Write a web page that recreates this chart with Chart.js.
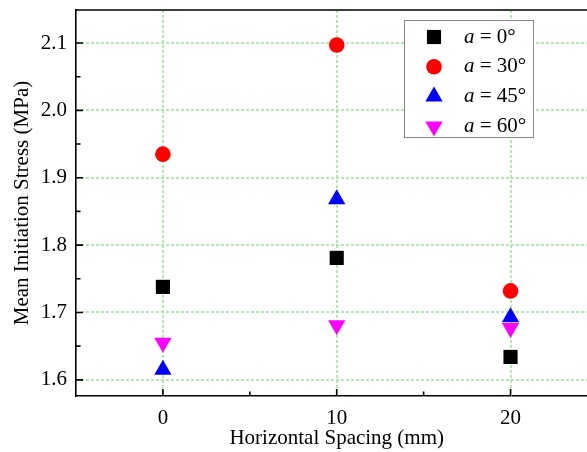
<!DOCTYPE html>
<html>
<head>
<meta charset="utf-8">
<script src="https://cdn.jsdelivr.net/npm/chart.js@4/dist/chart.umd.min.js"></script>
<style>
  html, body { margin: 0; padding: 0; background: #fff; overflow: hidden; }
  canvas { display: block; }
</style>
</head>
<body>
<canvas id="chart" width="587" height="452"></canvas>
<script>
// horizontal spacing (mm) and mean initiation stress (MPa) per inclination angle
const spacing = [0, 10, 20];
const stressA0 = [1.738, 1.781, 1.634];
const stressA30 = [1.935, 2.097, 1.732];
const stressA45 = [1.615, 1.868, 1.693];
const stressA60 = [1.655, 1.681, 1.677];

const angleLabels = ["0°", "30°", "45°", "60°"];
const xTicks = [0, 10, 20];
const xMinor = [5, 15];
const yTicks = [1.6, 1.7, 1.8, 1.9, 2.0, 2.1];
const yMinor = [1.65, 1.75, 1.85, 1.95, 2.05];

const SERIF = "'Liberation Serif', 'Times New Roman', serif";
const GRID = "#9ce29c";

function pts(ys){
  return spacing.map((x,i)=>({x:x, y:ys[i]}));
}

const series = [
  {ys:stressA0,  color:"#000000", style:"rect",     radius:10,  rot:0},
  {ys:stressA30, color:"#ff0000", style:"circle",   radius:7.8, rot:0},
  {ys:stressA45, color:"#0000ff", style:"triangle", radius:10,  rot:0},
  {ys:stressA60, color:"#ff00ff", style:"triangle", radius:10,  rot:180}
];

// same geometry as Chart.js point styles, used for the legend symbols
function marker(ctx, style, r, rot, x, y){
  ctx.beginPath();
  if(style === "circle"){
    ctx.arc(x, y, r, 0, Math.PI*2);
  } else if(style === "rect"){
    const s = Math.SQRT1_2 * r;
    ctx.rect(x-s, y-s, 2*s, 2*s);
  } else {
    let a = rot * Math.PI / 180;
    ctx.moveTo(x + Math.sin(a)*r, y - Math.cos(a)*r);
    a += Math.PI*2/3;
    ctx.lineTo(x + Math.sin(a)*r, y - Math.cos(a)*r);
    a += Math.PI*2/3;
    ctx.lineTo(x + Math.sin(a)*r, y - Math.cos(a)*r);
    ctx.closePath();
  }
  ctx.fill();
}

const frame = {
  id:"frame",
  beforeDatasetsDraw(chart){
    const {ctx, chartArea:a, scales:{x, y}} = chart;
    ctx.save();
    ctx.strokeStyle = GRID;
    ctx.lineWidth = 1.5;
    ctx.setLineDash([3,2]);
    ctx.beginPath();
    yTicks.forEach(v=>{
      const p = Math.round(y.getPixelForValue(v));
      ctx.moveTo(a.left, p); ctx.lineTo(a.right, p);
    });
    xTicks.forEach(v=>{
      const p = Math.round(x.getPixelForValue(v));
      ctx.moveTo(p, a.top); ctx.lineTo(p, a.bottom);
    });
    ctx.stroke();
    ctx.restore();
  },
  afterDatasetsDraw(chart){
    const {ctx, chartArea:a, scales:{x, y}} = chart;
    ctx.save();
    ctx.strokeStyle = "#000";
    ctx.lineWidth = 1.6;
    ctx.beginPath();
    ctx.moveTo(a.left, a.top);
    ctx.lineTo(a.right, a.top);
    // inward ticks
    xTicks.forEach(v=>{ const p = x.getPixelForValue(v); ctx.moveTo(p, a.bottom); ctx.lineTo(p, a.bottom-7); });
    xMinor.forEach(v=>{ const p = x.getPixelForValue(v); ctx.moveTo(p, a.bottom); ctx.lineTo(p, a.bottom-4.5); });
    yTicks.forEach(v=>{ const p = y.getPixelForValue(v); ctx.moveTo(a.left, p); ctx.lineTo(a.left+7, p); });
    yMinor.forEach(v=>{ const p = y.getPixelForValue(v); ctx.moveTo(a.left, p); ctx.lineTo(a.left+4.5, p); });
    ctx.stroke();
    ctx.restore();
  },
  afterDraw(chart){
    const {ctx, scales:{x}} = chart;
    ctx.save();
    // axis title, centred on the full -5..25 span
    ctx.fillStyle = "#000";
    ctx.font = "21px " + SERIF;
    ctx.textAlign = "center";
    ctx.textBaseline = "middle";
    ctx.fillText("Horizontal Spacing (mm)", x.getPixelForValue(10), 438);
    ctx.textAlign = "left";
    // legend
    ctx.fillStyle = "#fff";
    ctx.fillRect(404, 20, 130, 118);
    ctx.strokeStyle = "#888";
    ctx.lineWidth = 1;
    ctx.strokeRect(404.5, 20.5, 129, 117);
    series.forEach((s,i)=>{
      const cy = 37 + i*29.8;
      ctx.fillStyle = s.color;
      marker(ctx, s.style, s.radius, s.rot, 434, cy);
      ctx.fillStyle = "#000";
      ctx.font = "italic 21px " + SERIF;
      ctx.fillText("a", 464, cy);
      const w = ctx.measureText("a").width;
      ctx.font = "21px " + SERIF;
      ctx.fillText(" = " + angleLabels[i], 464 + w, cy);
    });
    ctx.restore();
  }
};

new Chart(document.getElementById("chart"), {
  type:"scatter",
  data:{
    datasets: series.map((s,i)=>({
      label:"a = " + angleLabels[i],
      data:pts(s.ys),
      pointStyle:s.style,
      pointRadius:s.radius,
      pointHoverRadius:s.radius,
      pointRotation:s.rot,
      backgroundColor:s.color,
      borderColor:s.color,
      pointBorderWidth:0
    }))
  },
  options:{
    responsive:false,
    animation:false,
    layout:{autoPadding:false, padding:{top:10, left:0, right:0, bottom:0}},
    plugins:{legend:{display:false}, tooltip:{enabled:false}},
    scales:{
      x:{
        type:"linear",
        min:-5, max:24.4,
        afterBuildTicks:s=>{ s.ticks = xTicks.map(v=>({value:v})); },
        afterFit:s=>{ s.height = 56; s.paddingLeft = 0; s.paddingRight = 0; },
        grid:{display:false, drawTicks:false},
        border:{display:true, color:"#000", width:1.6},
        ticks:{color:"#000", padding:10, font:{family:SERIF, size:21}, callback:v=>String(v)},
        title:{display:false}
      },
      y:{
        min:1.576, max:2.149,
        afterBuildTicks:s=>{ s.ticks = yTicks.map(v=>({value:v})); },
        afterFit:s=>{ s.width = 76; s.paddingTop = 0; s.paddingBottom = 0; },
        grid:{display:false, drawTicks:false},
        border:{display:true, color:"#000", width:1.6},
        ticks:{color:"#000", padding:9, font:{family:SERIF, size:21}, callback:v=>v.toFixed(1)},
        title:{display:true, text:"Mean Initiation Stress (MPa)", color:"#000",
               font:{family:SERIF, size:21}, padding:{top:10, bottom:0}}
      }
    }
  },
  plugins:[frame]
});
</script>
</body>
</html>
